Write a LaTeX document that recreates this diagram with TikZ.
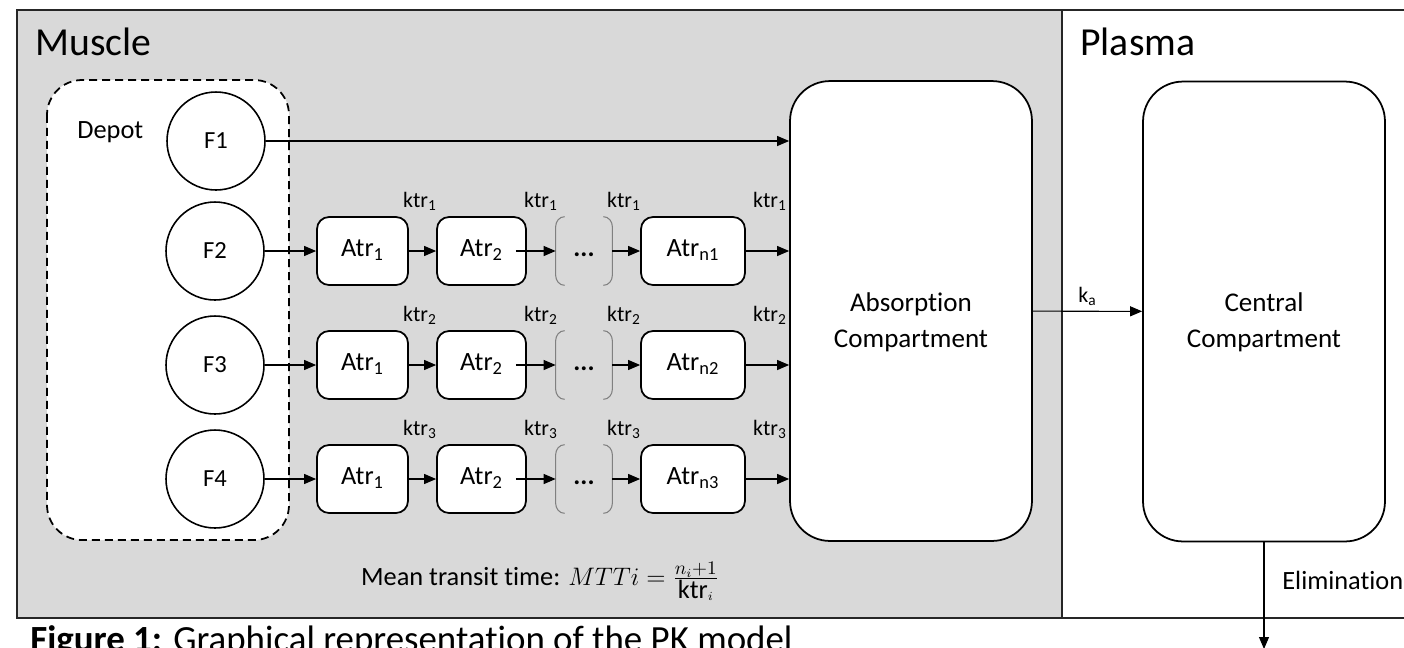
\documentclass[tikz,border=0pt]{standalone}
\usepackage{fontspec}
\setmainfont{Carlito}[Ligatures=NoCommon]
\usetikzlibrary{arrows.meta}

\definecolor{musclegray}{HTML}{D9D9D9}
\definecolor{framegray}{HTML}{262626}

\tikzset{
  regionline/.style={draw=framegray, line width=1.2pt},
  regionlab/.style={inner sep=0pt, font=\fontsize{22.6}{27}\selectfont},
  plainlab/.style={inner sep=0pt, font=\fontsize{15}{18}\selectfont},
  ratelab/.style={inner sep=0pt, font=\fontsize{12.5}{15}\selectfont},
  depotline/.style={draw, line width=1pt, fill=white, rounded corners=0.7cm,
    dash pattern=on 0.16cm off 0.1cm},
  depotcirc/.style={draw, circle, line width=0.9pt, fill=white, minimum size=1.96cm,
    inner sep=0pt, font=\fontsize{14}{17}\selectfont},
  transitbox/.style={draw, line width=1pt, fill=white, rounded corners=0.24cm,
    minimum height=1.36cm, inner sep=0pt, text height=0.9em, text depth=0.25em,
    font=\fontsize{15}{18}\selectfont},
  dotsbox/.style={minimum width=1.12cm, minimum height=1.36cm, inner sep=0pt,
    text height=0.9em, text depth=0.25em, font=\fontsize{15}{18}\selectfont\bfseries},
  paren/.style={draw=gray, line width=0.6pt},
  compbox/.style={draw, line width=1pt, fill=white, rounded corners=0.8cm,
    minimum width=4.84cm, minimum height=9.2cm},
  comptext/.style={align=center, inner sep=0pt, font=\fontsize{15.4}{20.5}\selectfont},
  flow/.style={->, line width=0.6pt}
}

\begin{document}
\begin{tikzpicture}[x=0.02cm, y=-0.02cm, >={Triangle[length=0.24cm,width=0.2cm]}]
  \useasboundingbox (0,0) rectangle (1404,647);

  % Muscle and Plasma regions
  \draw[regionline, fill=musclegray] (17,10) rectangle (1062,618);
  \draw[regionline, fill=white] (1062,10) rectangle (1430,618);
  \node[regionlab, anchor=base west] (musclelab) at (35,55) {Muscle};
  \node[regionlab, anchor=base west] (plasmalab) at (1080,55) {Plasma};

  % Depot
  \draw[depotline] (47,80) rectangle (289,540);
  \node[plainlab, anchor=base west] (depotlab) at (77,138) {Depot};
  \node[depotcirc] (f1) at (216,141) {F1};

  % Compartments
  \node[compbox] (absorb) at (911,311) {};
  \node[compbox] (central) at (1264,311.5) {};
  \node[comptext] (absorbtxt) at ([yshift=-0.22cm]absorb.center) {Absorption\\Compartment};
  \node[comptext] (centraltxt) at ([yshift=-0.22cm]central.center) {Central\\Compartment};

  \draw[flow] (f1) -- (f1 -| absorb.west);

  % Transit chains
  \foreach \r/\y/\f in {1/251/2, 2/365/3, 3/479/4} {
    \node[depotcirc] (f\f) at (215,\y) {F\f};
    \node[transitbox, minimum width=1.82cm] (atrA\r) at (362.5,\y) {Atr\textsubscript{1}};
    \node[transitbox, minimum width=1.78cm] (atrB\r) at (481.5,\y) {Atr\textsubscript{2}};
    \node[dotsbox] (dots\r) at (584,\y) {...};
    \node[transitbox, minimum width=2.08cm] (atrN\r) at (693,\y) {Atr\textsubscript{n\r}};

    \draw[paren] ([xshift=0.18cm]dots\r.north west) to[out=180,in=90]
      ([yshift=-0.2cm]dots\r.north west) -- ([yshift=0.2cm]dots\r.south west)
      to[out=-90,in=180] ([xshift=0.18cm]dots\r.south west);
    \draw[paren] ([xshift=-0.18cm]dots\r.north east) to[out=0,in=90]
      ([yshift=-0.2cm]dots\r.north east) -- ([yshift=0.2cm]dots\r.south east)
      to[out=-90,in=0] ([xshift=-0.18cm]dots\r.south east);

    \draw[flow] (f\f) -- (atrA\r);
    \draw[flow] (atrA\r) -- (atrB\r);
    \draw[flow] ([xshift=-0.22cm]atrB\r.east) -- (dots\r.west);
    \draw[flow] (dots\r) -- (atrN\r);
    \draw[flow] (atrN\r) -- (atrN\r -| absorb.west);

    \node[ratelab] (ktrA\r) at (420,\y-50) {ktr\textsubscript{\r}};
    \node[ratelab] (ktrB\r) at (541,\y-50) {ktr\textsubscript{\r}};
    \node[ratelab] (ktrC\r) at (624,\y-50) {ktr\textsubscript{\r}};
    \node[ratelab] (ktrD\r) at (770,\y-50) {ktr\textsubscript{\r}};
  }

  \node[plainlab, anchor=base] (mtt) at (540,585)
    {Mean transit time: $MTTi=\frac{n_i+1}{\mbox{ktr}_i}$};

  % Absorption and elimination
  \draw[flow] (absorb) -- (central) node[ratelab, pos=0.5, above=3pt] (kalab) {k\textsubscript{a}};
  \coordinate (elimend) at (1264,649);
  \draw[flow] (central) -- (elimend);
  \node[plainlab, anchor=west] (elimlab) at (1282,580) {Elimination};

  \node[anchor=base west, inner sep=0pt, font=\fontsize{21}{25}\selectfont] (caption)
    at (30,651) {\textbf{Figure 1:} Graphical representation of the PK model};
\end{tikzpicture}
\end{document}
